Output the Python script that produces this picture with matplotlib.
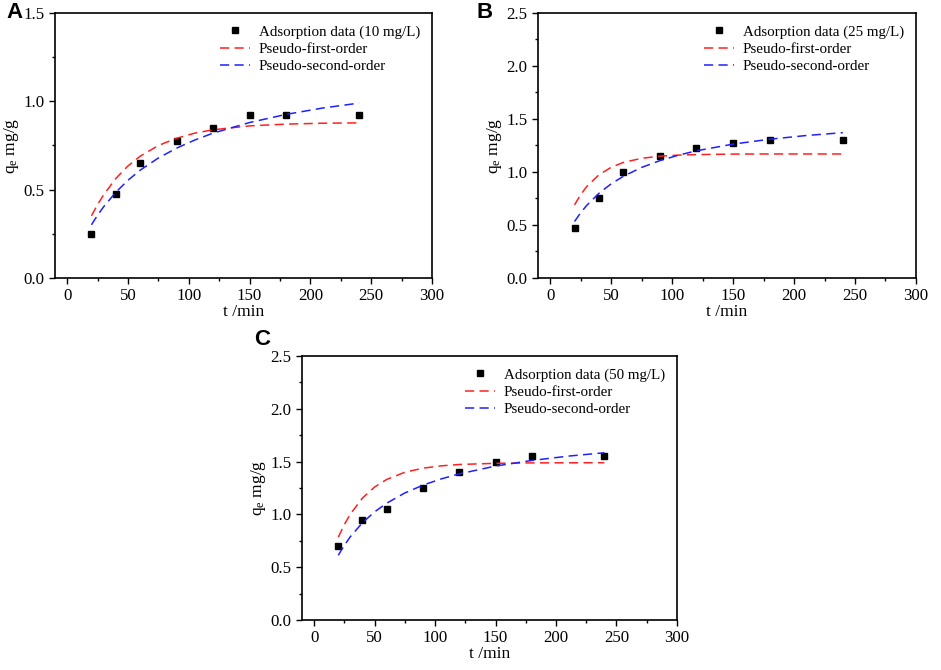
import matplotlib
matplotlib.use("Agg")
import matplotlib.pyplot as plt
from matplotlib.ticker import MultipleLocator

plt.rcParams["font.family"] = ["Liberation Serif", "DejaVu Serif"]
plt.rcParams["mathtext.fontset"] = "custom"
plt.rcParams["mathtext.rm"] = "Liberation Serif"
plt.rcParams["mathtext.it"] = "Liberation Serif"

# sampling time of experimental points (min)
t_data = [20, 40, 60, 90, 120, 150, 180, 240]
# time grid for the fitted curves (min)
t_fit = [20, 25, 30, 40, 50, 60, 75, 90, 105, 120, 150, 180, 210, 240]

# A: 10 mg/L
q_a = [0.25, 0.475, 0.65, 0.775, 0.85, 0.925, 0.925, 0.925]
pfo_a = [0.352, 0.415, 0.470, 0.563, 0.634, 0.689, 0.750, 0.791, 0.820, 0.839, 0.861, 0.871, 0.876, 0.878]
pso_a = [0.301, 0.355, 0.403, 0.485, 0.553, 0.610, 0.679, 0.735, 0.781, 0.820, 0.880, 0.926, 0.962, 0.990]

# B: 25 mg/L
q_b = [0.475, 0.75, 1.0, 1.15, 1.225, 1.275, 1.30, 1.30]
pfo_b = [0.690, 0.786, 0.863, 0.973, 1.044, 1.090, 1.129, 1.149, 1.159, 1.164, 1.169, 1.170, 1.170, 1.170]
pso_b = [0.533, 0.615, 0.685, 0.799, 0.888, 0.959, 1.043, 1.107, 1.158, 1.200, 1.263, 1.309, 1.344, 1.371]

# C: 50 mg/L
q_c = [0.70, 0.95, 1.05, 1.25, 1.40, 1.50, 1.55, 1.55]
pfo_c = [0.784, 0.903, 1.003, 1.155, 1.259, 1.331, 1.399, 1.438, 1.460, 1.473, 1.484, 1.488, 1.489, 1.490]
pso_c = [0.613, 0.707, 0.789, 0.921, 1.024, 1.106, 1.203, 1.277, 1.336, 1.384, 1.458, 1.511, 1.552, 1.584]

# letter, concentration, data, first-order fit, second-order fit, y max, axes rect, letter pos
panels = [
    ("A", "10 mg/L", q_a, pfo_a, pso_a, 1.5, [0.0584, 0.5851, 0.4007, 0.3955], (-0.106, 1.0)),
    ("B", "25 mg/L", q_b, pfo_b, pso_b, 2.5, [0.5717, 0.5851, 0.4017, 0.3955], (-0.14, 1.0)),
    ("C", "50 mg/L", q_c, pfo_c, pso_c, 2.5, [0.3209, 0.0746, 0.3985, 0.3940], (-0.107, 1.064)),
]

fig = plt.figure(figsize=(9.41, 6.70), dpi=100)

for letter, conc, q, pfo, pso, ymax, rect, lpos in panels:
    ax = fig.add_axes(rect)
    ax.plot(t_data, q, "s", color="black", markersize=4.5, linestyle="none",
            label=f"Adsorption data ({conc})")
    ax.plot(t_fit, pfo, color="#ff2020", lw=1.1, dashes=(6, 3.5),
            label="Pseudo-first-order")
    ax.plot(t_fit, pso, color="#2020ff", lw=1.1, dashes=(6, 3.5),
            label="Pseudo-second-order")

    ax.set_xlim(-10, 300)
    ax.set_ylim(0, ymax)
    ax.xaxis.set_major_locator(MultipleLocator(50))
    ax.xaxis.set_minor_locator(MultipleLocator(25))
    ax.yaxis.set_major_locator(MultipleLocator(0.5))
    ax.yaxis.set_minor_locator(MultipleLocator(0.25))
    ax.yaxis.set_major_formatter(plt.FormatStrFormatter("%.1f"))
    ax.tick_params(which="major", direction="out", length=4, width=1, labelsize=12.2)
    ax.tick_params(which="minor", direction="out", length=2.5, width=1)
    for s in ax.spines.values():
        s.set_linewidth(1.2)

    ax.set_xlabel("t /min", fontsize=12.5, labelpad=0)
    ax.set_ylabel("q$_e$ mg/g", fontsize=12.5, labelpad=1.5)

    ax.legend(loc="upper right", frameon=False, fontsize=10.8, handlelength=2.0,
              handletextpad=0.6, labelspacing=0.25, borderaxespad=0.4)

    ax.text(lpos[0], lpos[1], letter, transform=ax.transAxes, fontsize=16,
            fontweight="bold", family="Liberation Sans", va="center", ha="center")

fig.savefig("out.png", dpi=100)
